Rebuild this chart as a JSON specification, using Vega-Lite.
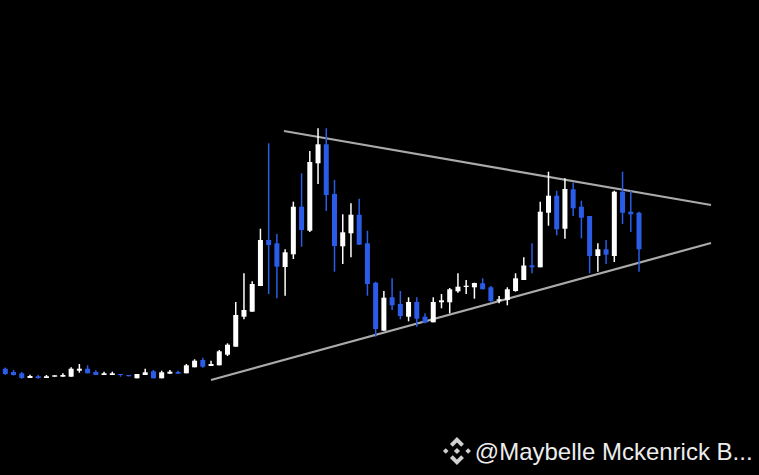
{"$schema":"https://vega.github.io/schema/vega-lite/v6.json","width":759,"height":475,"padding":0,"autosize":{"type":"fit","contains":"padding"},"background":"#000000","config":{"view":{"stroke":null}},
"datasets":{"candles":[
{"t":0,"d":"down","o":106.3,"c":101,"h":107.5,"l":100},{"t":1,"d":"down","o":103,"c":100,"h":105,"l":99.5},{"t":2,"d":"down","o":101.7,"c":97,"h":103,"l":96.3},{"t":3,"d":"up","o":97,"c":99,"h":100.3,"l":97},{"t":4,"d":"down","o":98.7,"c":97,"h":100,"l":96.3},{"t":5,"d":"up","o":97,"c":98.7,"h":100,"l":97},{"t":6,"d":"up","o":98.3,"c":99.7,"h":99.7,"l":98.3},{"t":7,"d":"up","o":98.3,"c":100,"h":101.7,"l":98.3},{"t":8,"d":"up","o":98.3,"c":106.3,"h":107.7,"l":98.3},{"t":9,"d":"up","o":104.3,"c":106.3,"h":111,"l":102.3},
{"t":10,"d":"down","o":106.3,"c":101.7,"h":109.7,"l":101.7},{"t":11,"d":"down","o":103,"c":100,"h":104.7,"l":100},{"t":12,"d":"up","o":100,"c":101.7,"h":103.3,"l":100},{"t":13,"d":"up","o":100,"c":101.7,"h":103.3,"l":100},{"t":14,"d":"down","o":101,"c":100,"h":101,"l":98.3},{"t":15,"d":"down","o":100,"c":98.7,"h":100,"l":98.7},{"t":16,"d":"up","o":96.7,"c":101,"h":101,"l":96.7},{"t":17,"d":"up","o":100,"c":102.7,"h":106.3,"l":100},{"t":18,"d":"down","o":103.7,"c":96.7,"h":105,"l":96.7},{"t":19,"d":"up","o":96.7,"c":102.7,"h":104.3,"l":96.7},
{"t":20,"d":"up","o":101.3,"c":103.3,"h":105,"l":101.3},{"t":21,"d":"down","o":103,"c":101.3,"h":104.3,"l":101.3},{"t":22,"d":"up","o":101.7,"c":109.7,"h":111,"l":101.7},{"t":23,"d":"up","o":107.7,"c":114.3,"h":115.7,"l":107.7},{"t":24,"d":"down","o":115,"c":108.3,"h":117.3,"l":107.3},{"t":25,"d":"up","o":109,"c":111,"h":114.3,"l":109},{"t":26,"d":"up","o":109.7,"c":123.7,"h":125,"l":109.7},{"t":27,"d":"up","o":120.3,"c":130.3,"h":131.7,"l":119},{"t":28,"d":"up","o":128.3,"c":160,"h":173,"l":128.3},{"t":29,"d":"up","o":158.3,"c":165,"h":201.7,"l":155.7},
{"t":30,"d":"up","o":163.3,"c":191,"h":193.7,"l":163.3},{"t":31,"d":"up","o":189,"c":235,"h":246.3,"l":189},{"t":32,"d":"down","o":235,"c":230,"h":331.7,"l":181},{"t":33,"d":"down","o":231.7,"c":208.3,"h":241,"l":176.7},{"t":34,"d":"up","o":208,"c":222.7,"h":225.7,"l":179.3},{"t":35,"d":"up","o":220.7,"c":268.3,"h":273.3,"l":216},{"t":36,"d":"down","o":268.3,"c":245,"h":301.7,"l":228.3},{"t":37,"d":"up","o":244.3,"c":313,"h":324,"l":243},{"t":38,"d":"up","o":311.7,"c":330.7,"h":346.7,"l":291},{"t":39,"d":"down","o":330.7,"c":280,"h":346.7,"l":264},
{"t":40,"d":"down","o":281,"c":229,"h":295,"l":203.3},{"t":41,"d":"up","o":228.7,"c":242.7,"h":260.7,"l":211},{"t":42,"d":"up","o":241.7,"c":260.3,"h":271.7,"l":217.7},{"t":43,"d":"down","o":260.3,"c":230.3,"h":276.3,"l":230.3},{"t":44,"d":"down","o":231.7,"c":191,"h":244.3,"l":179.3},{"t":45,"d":"down","o":192.3,"c":146,"h":193.3,"l":138.3},{"t":46,"d":"up","o":144.3,"c":177.3,"h":184,"l":144.3},{"t":47,"d":"down","o":177.7,"c":169.7,"h":196.7,"l":165},{"t":48,"d":"down","o":171,"c":159,"h":184,"l":155.7},{"t":49,"d":"up","o":158.3,"c":173,"h":177.7,"l":153.7},
{"t":50,"d":"down","o":173,"c":156.3,"h":177.7,"l":148.3},{"t":51,"d":"down","o":158.3,"c":152.3,"h":161.7,"l":151.7},{"t":52,"d":"up","o":152.7,"c":173,"h":177.7,"l":152.7},{"t":53,"d":"up","o":172.7,"c":174.7,"h":181,"l":166.7},{"t":54,"d":"up","o":172.7,"c":185.7,"h":187,"l":161.7},{"t":55,"d":"up","o":183.7,"c":188.3,"h":201.7,"l":182.3},{"t":56,"d":"up","o":188,"c":189.3,"h":195,"l":181},{"t":57,"d":"up","o":187.7,"c":192,"h":192.3,"l":176.3},{"t":58,"d":"down","o":191.7,"c":185.7,"h":196.7,"l":185.7},{"t":59,"d":"down","o":187.7,"c":174,"h":189,"l":172.3},
{"t":60,"d":"up","o":174.3,"c":175.7,"h":179,"l":171.7},{"t":61,"d":"up","o":175,"c":185.7,"h":187.7,"l":169.7},{"t":62,"d":"up","o":184,"c":196.7,"h":201.7,"l":183.3},{"t":63,"d":"up","o":195,"c":209.5,"h":217.7,"l":195},{"t":64,"d":"down","o":209.7,"c":207.7,"h":231.7,"l":201.7},{"t":65,"d":"up","o":207.7,"c":263.3,"h":273.3,"l":207.7},{"t":66,"d":"up","o":262.3,"c":279.3,"h":303.3,"l":249.3},{"t":67,"d":"down","o":279.3,"c":245.7,"h":284.3,"l":239.7},{"t":68,"d":"up","o":246.3,"c":286,"h":296.7,"l":236.3},{"t":69,"d":"down","o":285.7,"c":266.7,"h":292.3,"l":259},
{"t":70,"d":"down","o":268.3,"c":257.3,"h":274.3,"l":236.7},{"t":71,"d":"down","o":259,"c":219,"h":259,"l":201.7},{"t":72,"d":"up","o":219,"c":225.7,"h":231.7,"l":203.3},{"t":73,"d":"down","o":225.7,"c":220.3,"h":235,"l":211},{"t":74,"d":"up","o":219,"c":283.3,"h":284.3,"l":213},{"t":75,"d":"down","o":283.3,"c":262.3,"h":303.3,"l":251},{"t":76,"d":"down","o":263.3,"c":260.7,"h":284.3,"l":243},{"t":77,"d":"down","o":262.3,"c":225.7,"h":263.3,"l":203.3}
],"trend":[{"t":33.86,"v":344,"g":"upper"},{"t":85.75,"v":270,"g":"upper"},{"t":24.99,"v":95,"g":"lower"},{"t":85.75,"v":232,"g":"lower"}],
"mark":[{"t":54.88,"v":24}],"label":[{"t":57.05,"v":22.5,"text":"@Maybelle Mckenrick B..."}]},
"layer":[
{"data":{"name":"trend"},"mark":{"type":"line","color":"#aaaaaa","strokeWidth":2.2},"encoding":{"x":{"field":"t","type":"quantitative","axis":null,"scale":{"domain":[-0.644,91.58],"nice":false,"zero":false,"padding":0}},"y":{"field":"v","type":"quantitative","axis":null,"scale":{"domain":[0,475],"nice":false,"zero":false,"padding":0}},"detail":{"field":"g"}}},
{"data":{"name":"candles"},"mark":{"type":"rule","strokeWidth":1.5},"encoding":{"x":{"field":"t","type":"quantitative"},"y":{"field":"l","type":"quantitative"},"y2":{"field":"h"},"color":{"field":"d","type":"nominal","legend":null,"scale":{"domain":["up","down"],"range":["#ffffff","#2a5ce8"]}}}},
{"data":{"name":"candles"},"mark":{"type":"bar","width":5},"encoding":{"x":{"field":"t","type":"quantitative"},"y":{"field":"o","type":"quantitative"},"y2":{"field":"c"},"color":{"field":"d","type":"nominal","legend":null}}},
{"data":{"name":"mark"},"mark":{"type":"point","filled":true,"opacity":1,"color":"#d0d0d0","size":784,"shape":"M0,-1L0.5,-0.5L0.3,-0.3L0,-0.6L-0.3,-0.3L-0.5,-0.5ZM0,1L0.5,0.5L0.3,0.3L0,0.6L-0.3,0.3L-0.5,0.5ZM-1,0L-0.8,-0.2L-0.6,0L-0.8,0.2ZM1,0L0.8,-0.2L0.6,0L0.8,0.2ZM0,-0.22L0.22,0L0,0.22L-0.22,0Z"},"encoding":{"x":{"field":"t","type":"quantitative"},"y":{"field":"v","type":"quantitative"}}},
{"data":{"name":"label"},"mark":{"type":"text","align":"left","baseline":"middle","font":"Liberation Sans","fontSize":24,"color":"#ececec"},"encoding":{"x":{"field":"t","type":"quantitative"},"y":{"field":"v","type":"quantitative"},"text":{"field":"text"}}}
]}
